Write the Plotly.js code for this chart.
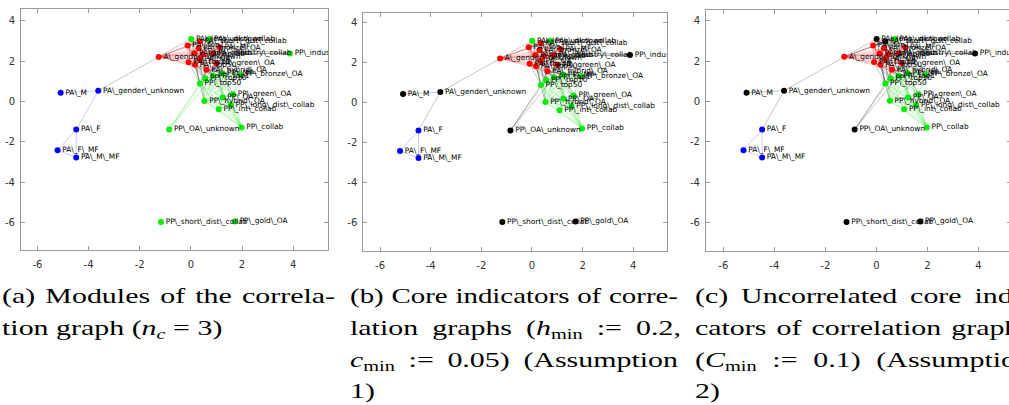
<!DOCTYPE html>
<html>
<head>
<meta charset="utf-8">
<script src="https://cdn.plot.ly/plotly-3.0.1.min.js"></script>
<style>
  html, body { margin: 0; padding: 0; width: 1009px; height: 405px; overflow: hidden; background: #fff; }
  #chart { position: absolute; left: 0; top: 0; width: 1060px; height: 405px; }
  .cap { position: absolute; font-family: "Liberation Serif", "DejaVu Serif", serif; font-size: 22px;
         line-height: 31.6px; height: 31.6px; color: #000; white-space: nowrap;
         transform-origin: 0 0; }
  .just { text-align: justify; text-align-last: justify; }
  .left { text-align: left; }
  .cap sub { font-size: 0.68em; line-height: 0; vertical-align: -0.28em; }
  .cap i { font-style: italic; }
</style>
</head>
<body>
<div id="chart"></div>
<div id="captions"></div>
<script>
// ---------------- data ----------------
const nodeNames = [
  "PA\\_M", "PA\\_gender\\_unknown", "PA\\_F", "PA\\_F\\_MF", "PA\\_M\\_MF",
  "A\\_gender\\_unknown", "PP\\_industry\\_collab", "PP\\_OA\\_unknown", "PP\\_collab",
  "PP\\_short\\_dist\\_collab", "PP\\_gold\\_OA", "PP\\_int\\_collab", "PP\\_long\\_dist\\_collab",
  "PP\\_green\\_OA", "PP\\_OA", "PP\\_hybrid\\_OA", "PP\\_top50", "PP\\_top10", "PP\\_top1",
  "PP\\_MF", "PP\\_bronze\\_OA",
  "PA\\_unknown", "PA\\_long\\_dist\\_collab", "PA\\_short\\_dist\\_collab", "PA\\_top1", "PA\\_MF",
  "PA\\_int\\_collab", "PA\\_collab", "PA\\_industry\\_collab", "PA\\_top10", "PA\\_top50",
  "PA\\_OA", "PA\\_hybrid\\_OA", "PA\\_green\\_OA", "PA\\_bronze\\_OA"
];
const nodeX = [
  -5.09, -3.62, -4.48, -5.21, -4.48,
  -1.26, 3.87, -0.85, 1.98,
  -1.17, 1.72, 1.09, 1.56,
  1.65, 1.24, 0.53, 0.35, 0.56, 0.87,
  1.24, 1.94,
  0.72, 0.01, 0.35, -0.13, 1.13,
  0.13, 0.48, 0.87, -0.09, 0.16,
  0.35, 0.61, 1.00, 0.30
];
const nodeY = [
  0.43, 0.53, -1.39, -2.41, -2.77,
  2.21, 2.38, -1.39, -1.29,
  -5.97, -5.94, -0.38, -0.17,
  0.36, 0.20, 0.03, 0.89, 1.14, 1.27,
  1.40, 1.34,
  3.10, 3.10, 2.97, 2.77, 2.67,
  2.39, 2.34, 2.39, 1.95, 1.82,
  2.10, 1.57, 1.90, 2.64
];
// module / core colouring per panel: r = red, g = green, b = blue, k = black (not core)
const groupA = "bbbbb" + "rgggg" + "gggg" + "ggggggg" + "gg" + "rrrrr" + "rrrrr" + "rrrr";
const groupB = "kkbbb" + "rkkgk" + "kggg" + "ggggggg" + "gg" + "rrrrr" + "rrrrr" + "rrrr";
const groupC = "kkbbb" + "rkkgk" + "kggg" + "ggggggg" + "gk" + "krrrr" + "rrrrr" + "rrrr";

const edgeSrc = [
  0,1,2,2,3, 1,
  5,5,5,5,5,5,5,5,5,5,5,5,5,5,
  21,21,21,21,21,21,21,21,21, 22,22,22,22,22,22, 23,23,23,23,23,23, 24,24,24,24,
  25,25,25,25, 26,26,26,26, 27,27,27,27, 28,28,28, 29,29,29, 30,30, 31,31, 32,33,
  29,29,29,30,30,30,31,32,32,32,32,32,33,33,33,33,33,27,27,28,28,26,24,25,25,34,23,21,22,31,30,32,33, 6,6,6,
  7,7,7, 8,8,8,8,8,8,8,8,8,
  11,11,11,11,11,11, 12,12,12,12,12, 13,13,13,13,13, 14,14,14,14, 15,15,15,15,15,
  16,16,16,16, 17,17,17, 18,18, 19
];
const edgeDst = [
  1,2,3,4,4, 5,
  21,22,23,24,25,26,27,28,29,30,31,32,33,34,
  22,23,24,25,26,27,28,31,34, 23,24,26,29,31,34, 24,25,27,28,30,33, 26,29,30,32,
  27,28,31,33, 27,29,31,32, 28,30,33,34, 31,32,34, 30,31,33, 32,34, 32,33, 33,34,
  16,17,18,16,17,19,18,16,17,18,19,20,17,18,19,20,14,17,19,18,20,16,17,19,20,18,17,19,16,15,15,13,13, 28,27,25,
  16,17,18, 16,17,18,19,15,11,12,13,14,
  12,13,14,15,16,17, 13,14,15,17,18, 14,15,17,19,20, 15,16,18,19, 16,17,18,19,20,
  17,18,19,20, 18,19,20, 19,20, 20
];
const xTicks = [-6, -4, -2, 0, 2, 4];
const yTicks = [-6, -4, -2, 0, 2, 4];

// ---------------- styles ----------------
const markerColor = { r: "#ff0000", g: "#00ee00", b: "#0000ff", k: "#000000" };
const edgeColor = { r: "rgba(255,0,0,0.32)", g: "rgba(0,220,0,0.38)", b: "rgba(0,0,255,0.3)", k: "rgba(0,0,0,0.32)" };

const panels = [
  { groups: groupA, xa: "x", ya: "y",  xdom: [21/1060, 328/1060], ydom: [1-250/405, 1-9/405],
    xr: [-6.64, 5.36], yr: [-7.35, 4.58] },
  { groups: groupB, xa: "x2", ya: "y2", xdom: [363.3/1060, 666.7/1060], ydom: [1-250.7/405, 1-12.7/405],
    xr: [-6.66, 5.32], yr: [-7.40, 4.50] },
  { groups: groupC, xa: "x3", ya: "y3", xdom: [706/1060, 1011/1060], ydom: [1-250.7/405, 1-10/405],
    xr: [-6.68, 5.28], yr: [-7.39, 4.53] }
];

const traces = [];
panels.forEach(p => {
  const seg = { r: {x: [], y: []}, g: {x: [], y: []}, b: {x: [], y: []}, k: {x: [], y: []} };
  for (let i = 0; i < edgeSrc.length; i++) {
    const s = edgeSrc[i], d = edgeDst[i];
    const gs = p.groups[s], gd = p.groups[d];
    const c = (gs === gd && gs !== "k") ? gs : "k";
    seg[c].x.push(nodeX[s], nodeX[d], null);
    seg[c].y.push(nodeY[s], nodeY[d], null);
  }
  ["k", "r", "g", "b"].forEach(c => {
    traces.push({ type: "scatter", mode: "lines", x: seg[c].x, y: seg[c].y, xaxis: p.xa, yaxis: p.ya,
      line: { color: edgeColor[c], width: 0.7 }, hoverinfo: "skip", showlegend: false });
  });
  traces.push({ type: "scatter", mode: "markers+text", x: nodeX, y: nodeY, text: nodeNames,
    xaxis: p.xa, yaxis: p.ya, textposition: "middle right",
    textfont: { family: "DejaVu Sans", size: 7.4, color: "#000" },
    marker: { size: 6, color: nodeNames.map((_, i) => markerColor[p.groups[i]]) },
    showlegend: false, cliponaxis: true });
});

function axis(dom, rng, tv, anchor, standoff) {
  return { domain: dom, range: rng, tickvals: tv, ticktext: tv.map(String), anchor: anchor,
    showline: true, mirror: "ticks", linecolor: "#9a9a9a", linewidth: 1,
    ticks: "inside", ticklen: 4, tickcolor: "#9a9a9a", showgrid: false, zeroline: false,
    ticklabelstandoff: standoff,
    tickfont: { family: "DejaVu Sans", size: 10, color: "#333" }, fixedrange: true };
}
const layout = {
  width: 1060, height: 405, margin: { l: 0, r: 0, t: 0, b: 0 },
  paper_bgcolor: "rgba(0,0,0,0)", plot_bgcolor: "#fff", showlegend: false,
  xaxis:  axis(panels[0].xdom, panels[0].xr, xTicks, "y", 5),
  yaxis:  axis(panels[0].ydom, panels[0].yr, yTicks, "x", 3),
  xaxis2: axis(panels[1].xdom, panels[1].xr, xTicks, "y2", 5),
  yaxis2: axis(panels[1].ydom, panels[1].yr, yTicks, "x2", 3),
  xaxis3: axis(panels[2].xdom, panels[2].xr, xTicks, "y3", 5),
  yaxis3: axis(panels[2].ydom, panels[2].yr, yTicks, "x3", 3)
};
Plotly.newPlot("chart", traces, layout, { staticPlot: true, displayModeBar: false });

// ---------------- captions ----------------
const capScale = 1.36;   // horizontal stretch of the caption face
const captionLines = [
  // [left, width (as drawn), top, align, html]
  [2, 333, 280, "just", "(a) Modules of the correla-"],
  [2, 333, 312, "left", "tion graph (<i>n</i><sub><i>c</i></sub> = 3)"],
  [350, 328, 280, "just", "(b) Core indicators of corre-"],
  [350, 331, 312, "just", "lation graphs (<i>h</i><sub>min</sub> := 0.2,"],
  [350, 328, 344, "just", "<i>c</i><sub>min</sub> := 0.05) (Assumption"],
  [350, 328, 375, "left", "1)"],
  [695, 336, 280, "just", "(c) Uncorrelated core indi-"],
  [695, 336, 312, "just", "cators of correlation graphs"],
  [695, 336, 344, "just", "(<i>C</i><sub>min</sub> := 0.1) (Assumption"],
  [695, 336, 375, "left", "2)"]
];
const capHost = document.getElementById("captions");
captionLines.forEach(([l, w, t, a, h]) => {
  const d = document.createElement("div");
  d.className = "cap left";
  d.style.left = l + "px"; d.style.top = t + "px";
  d.innerHTML = h;
  capHost.appendChild(d);
  const natural = d.getBoundingClientRect().width;
  let s = capScale;
  if (a === "just") {
    s = Math.min(capScale, (w - 2) / natural);
    d.className = "cap just";
    d.style.width = (w / s) + "px";
  }
  d.style.transform = "scaleX(" + s + ")";
});
</script>
</body>
</html>
